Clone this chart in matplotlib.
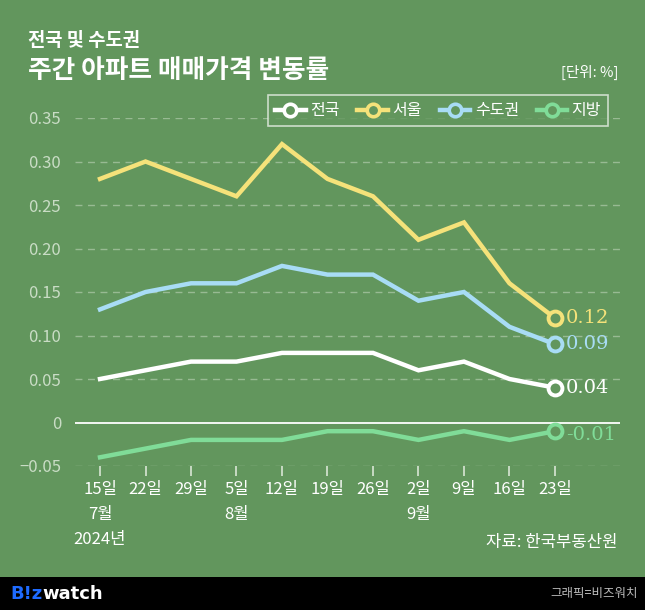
import matplotlib
matplotlib.use("Agg")
import matplotlib.pyplot as plt
from matplotlib.lines import Line2D

plt.rcParams['font.family'] = ['Noto Sans CJK KR', 'DejaVu Sans']

weeks = ["15일\n7월\n2024년", "22일", "29일", "5일\n8월", "12일", "19일", "26일",
         "2일\n9월", "9일", "16일", "23일"]
series_names = ["전국", "서울", "수도권", "지방"]
nation = [0.05, 0.06, 0.07, 0.07, 0.08, 0.08, 0.08, 0.06, 0.07, 0.05, 0.04]
seoul = [0.28, 0.30, 0.28, 0.26, 0.32, 0.28, 0.26, 0.21, 0.23, 0.16, 0.12]
capital = [0.13, 0.15, 0.16, 0.16, 0.18, 0.17, 0.17, 0.14, 0.15, 0.11, 0.09]
regions = [-0.04, -0.03, -0.02, -0.02, -0.02, -0.01, -0.01, -0.02, -0.01, -0.02, -0.01]
yticks = [-0.05, 0, 0.05, 0.10, 0.15, 0.20, 0.25, 0.30, 0.35]
ytick_labels = ["\u22120.05", "0", "0.05", "0.10", "0.15", "0.20", "0.25", "0.30", "0.35"]

bg = "#62965d"
colors = ["#ffffff", "#f5e27a", "#a8dcf5", "#80dc98"]
data = [nation, seoul, capital, regions]

W, H = 645, 610
fig = plt.figure(figsize=(W / 100, H / 100), dpi=100, facecolor=bg)

def px(x0, y0, x1, y1):
    return [x0 / W, 1 - y1 / H, (x1 - x0) / W, (y1 - y0) / H]

ax = fig.add_axes(px(75, 118, 620, 466))
ax.set_facecolor(bg)
x = list(range(len(weeks)))
ax.set_xlim(-0.55, 11.43)
ax.set_ylim(-0.05, 0.35)

for yv in yticks:
    if yv == 0:
        ax.axhline(0, color="white", lw=1.3, zorder=1)
    else:
        ax.axhline(yv, color="#98ba93", lw=1.0, ls=(0, (5, 4)), zorder=1)

for vals, c in zip(data, colors):
    ax.plot(x, vals, color=c, lw=3.2, solid_joinstyle="miter", zorder=3)
    ax.plot([x[-1]], [vals[-1]], marker="o", ms=10, mfc=bg, mec=c, mew=2.8,
            ls="none", zorder=4)
    dy = -3 if vals[-1] < 0 else 0
    ax.annotate(f"{vals[-1]:.2f}", (x[-1], vals[-1]), xytext=(8, dy),
                textcoords="offset points", color=c, fontsize=14,
                family="DejaVu Serif", va="center", ha="left")

for s in ax.spines.values():
    s.set_visible(False)
ax.set_yticks(yticks)
ax.set_yticklabels(ytick_labels, color="#c9dcc5", fontsize=12)
ax.tick_params(axis="y", length=0, pad=10)
ax.set_xticks(x)
ax.set_xticklabels(weeks, color="white", fontsize=12, linespacing=1.6)
ax.tick_params(axis="x", length=7, width=1.2, color="#d8e6d5", pad=4)

handles = [Line2D([0], [0], color=c, lw=3.2, marker="o", ms=9, mfc=bg, mec=c, mew=2.6)
           for c in colors]
leg = ax.legend(handles, series_names, loc="upper left", bbox_to_anchor=(268/W, 1 - 95/H),
                bbox_transform=fig.transFigure, ncol=4, frameon=True,
                prop={"size": 11.5, "weight": "medium"},
                handlelength=1.9, handletextpad=0.3, columnspacing=1.1,
                borderpad=0.45, borderaxespad=0, fancybox=False)
leg.get_frame().set_facecolor(bg)
leg.get_frame().set_edgecolor("#e8efe6")
leg.get_frame().set_linewidth(1.2)
for t in leg.get_texts():
    t.set_color("white")

fig.text(28 / W, 1 - 40 / H, "전국 및 수도권", color="white", fontsize=13.5,
         fontweight="heavy", va="center", ha="left")
fig.text(28 / W, 1 - 70 / H, "주간 아파트 매매가격 변동률", color="white", fontsize=18.5,
         fontweight="heavy", va="center", ha="left")
fig.text(618 / W, 1 - 72 / H, "[단위: %]", color="white", fontsize=10.5,
         va="center", ha="right")
fig.text(618 / W, 1 - 543 / H, "자료: 한국부동산원", color="white", fontsize=12,
         fontweight="medium", va="center", ha="right")

bar = fig.add_axes(px(0, 577, W, H))
bar.set_facecolor("black")
bar.set_xticks([]); bar.set_yticks([])
for s in bar.spines.values():
    s.set_visible(False)
fig.text(10 / W, 1 - 594 / H, "B!z", color="#1e6bff", fontsize=13, fontweight="bold",
         va="center", ha="left", family="DejaVu Sans")
fig.text(42 / W, 1 - 594 / H, "watch", color="white", fontsize=13, fontweight="bold",
         va="center", ha="left", family="DejaVu Sans")
fig.text(638 / W, 1 - 594 / H, "그래픽=비즈워치", color="#bbbbbb", fontsize=9,
         va="center", ha="right")

fig.savefig("out.png", dpi=100, facecolor=bg)
